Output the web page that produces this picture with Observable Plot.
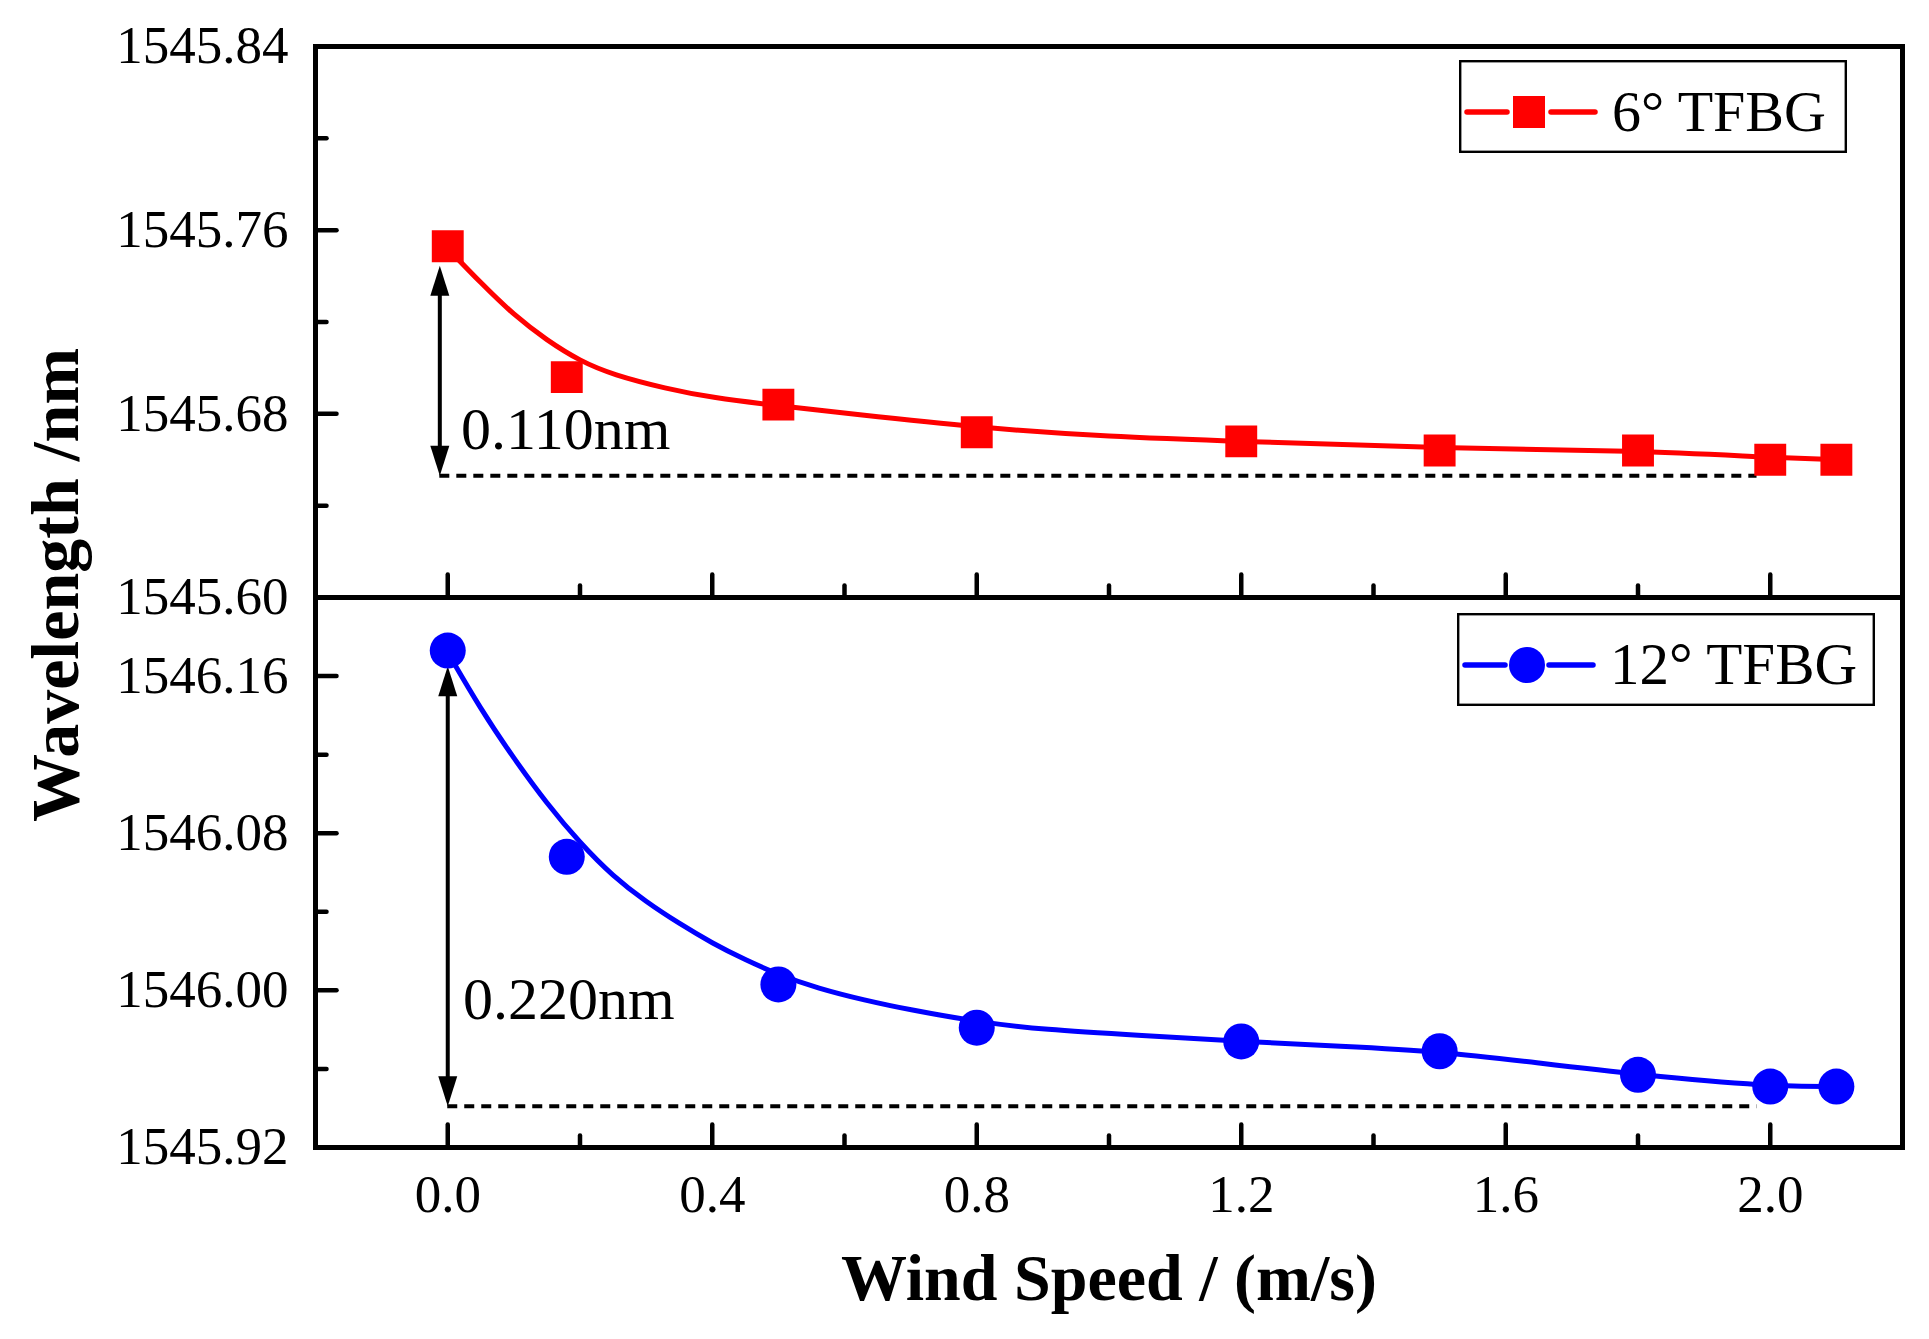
<!DOCTYPE html>
<html>
<head>
<meta charset="utf-8">
<script src="https://cdn.jsdelivr.net/npm/d3@7"></script>
<script src="https://cdn.jsdelivr.net/npm/@observablehq/plot@0.6"></script>
<style>
  html, body { margin: 0; padding: 0; background: #fff; }
  #wrap { position: relative; width: 1929px; height: 1339px; overflow: hidden; font-family: "Liberation Serif", "Times New Roman", serif; }
  #wrap > .panel { position: absolute; left: 0; }
  #wrap svg { overflow: visible; }
  .ylabel { position: absolute; left: 55px; top: 585px; transform: translate(-50%, -50%) rotate(-90deg); white-space: nowrap; font-weight: bold; font-size: 68px; line-height: 1; }
  .legend { position: absolute; }
</style>
</head>
<body>
<div id="wrap"></div>
<script>
// ---- data ----
const windSpeed = [0, 0.18, 0.5, 0.8, 1.2, 1.5, 1.8, 2.0, 2.1];
const tfbg6  = [1545.753, 1545.696, 1545.684, 1545.672, 1545.668, 1545.664, 1545.664, 1545.660, 1545.660];
const tfbg12 = [1546.173, 1546.068, 1546.003, 1545.981, 1545.974, 1545.969, 1545.957, 1545.951, 1545.951];

// fitted curves
const fitX6  = [0, 0.05, 0.1, 0.15, 0.2, 0.25, 0.33, 0.4, 0.5, 0.61, 0.8, 1.0, 1.2, 1.5, 1.8, 2.0, 2.1];
const fit6   = [1545.752, 1545.737, 1545.723, 1545.712, 1545.703, 1545.697, 1545.691, 1545.687, 1545.6835, 1545.680, 1545.674, 1545.670, 1545.668, 1545.665, 1545.664, 1545.661, 1545.660];
const fitX12 = [0, 0.05, 0.1, 0.15, 0.2, 0.25, 0.3, 0.35, 0.4, 0.45, 0.5, 0.56, 0.63, 0.7, 0.8, 0.9, 1.05, 1.2, 1.35, 1.5, 1.65, 1.8, 2.0, 2.1];
const fit12  = [1546.172, 1546.143, 1546.118, 1546.095, 1546.075, 1546.058, 1546.045, 1546.034, 1546.024, 1546.0155, 1546.008, 1546.001, 1545.995, 1545.990, 1545.984, 1545.980, 1545.977, 1545.974, 1545.9715, 1545.969, 1545.963, 1545.957, 1545.951, 1545.951];

// axis ticks
const xMajor = [0, 0.4, 0.8, 1.2, 1.6, 2.0];
const xMinor = [0.2, 0.6, 1.0, 1.4, 1.8];
const yMajorTop = [1545.60, 1545.68, 1545.76, 1545.84];
const yMinorTop = [1545.64, 1545.72, 1545.80];
const yMajorBot = [1545.92, 1546.00, 1546.08, 1546.16];
const yMinorBot = [1545.96, 1546.04, 1546.12];

// annotations
const shift6  = {label: "0.110nm", x: -0.012, top: 1545.7445, bottom: 1545.653, dashEnd: 1.98, tx: 0.02, ty: 1545.673};
const shift12 = {label: "0.220nm", x: 0.0, top: 1546.165, bottom: 1545.941, dashEnd: 1.98, tx: 0.023, ty: 1545.995};

const seriesNames = ["6° TFBG", "12° TFBG"];
const colors = ["#ff0000", "#0000ff"];

// ---- helpers ----
const tickShape = { draw(ctx, l) { ctx.moveTo(0, 0); ctx.lineTo(0, -l); } };
const headShape = { draw(ctx, l) { ctx.moveTo(0, -l); ctx.lineTo(9.5, 0); ctx.lineTo(-9.5, 0); ctx.closePath(); } };
const FONT = "'Liberation Serif', 'Times New Roman', serif";

function tickMarks(yMajor, yMinor) {
  const s = {anchor: "start", shape: tickShape, stroke: "black", strokeWidth: 4.5};
  return [
    Plot.vector(xMajor, {x: d => d, frameAnchor: "bottom", length: 23, rotate: 0, ...s}),
    Plot.vector(xMinor, {x: d => d, frameAnchor: "bottom", length: 12, rotate: 0, ...s}),
    Plot.vector(yMajor, {y: d => d, frameAnchor: "left", length: 21, rotate: 90, ...s}),
    Plot.vector(yMinor, {y: d => d, frameAnchor: "left", length: 11, rotate: 90, ...s})
  ];
}

function annotation(a) {
  const shaft = [{x: a.x, y1: a.top - 0.004, y2: a.bottom + 0.004}];
  return [
    Plot.ruleY([{y: a.bottom, x1: a.x, x2: a.dashEnd}], {y: "y", x1: "x1", x2: "x2", stroke: "black", strokeWidth: 4, strokeDasharray: "10,7"}),
    Plot.link(shaft, {x1: "x", x2: "x", y1: "y1", y2: "y2", stroke: "black", strokeWidth: 4}),
    Plot.vector([{x: a.x, y: a.top}], {x: "x", y: "y", length: 30, rotate: 0, anchor: "end", shape: headShape, fill: "black", stroke: "none"}),
    Plot.vector([{x: a.x, y: a.bottom}], {x: "x", y: "y", length: 30, rotate: 180, anchor: "end", shape: headShape, fill: "black", stroke: "none"}),
    Plot.text([a], {x: "tx", y: "ty", text: "label", textAnchor: "start", lineAnchor: "middle", fontSize: 60, fill: "black"})
  ];
}

const pts6  = windSpeed.map((x, i) => ({x, y: tfbg6[i]}));
const pts12 = windSpeed.map((x, i) => ({x, y: tfbg12[i]}));
const curve6  = fitX6.map((x, i) => ({x, y: fit6[i]}));
const curve12 = fitX12.map((x, i) => ({x, y: fit12[i]}));

const baseStyle = {fontFamily: FONT, fontSize: "52px", color: "black", background: "transparent", overflow: "visible"};

const topPlot = Plot.plot({
  width: 1929, height: 597,
  marginTop: 46, marginBottom: 0, marginLeft: 315, marginRight: 27,
  x: {domain: [-0.2, 2.2], axis: null},
  y: {domain: [1545.60, 1545.84]},
  style: baseStyle,
  marks: [
    ...tickMarks(yMajorTop, yMinorTop),
    Plot.axisY(yMajorTop, {tickSize: 0, tickPadding: 27, tickFormat: d => d.toFixed(2), fontSize: 53, label: null}),
    ...annotation(shift6),
    Plot.line(curve6, {x: "x", y: "y", stroke: colors[0], strokeWidth: 5, curve: "basis"}),
    Plot.dot(pts6, {x: "x", y: "y", symbol: "square", r: 18, fill: colors[0], stroke: "none"}),
    Plot.frame({stroke: "black", strokeWidth: 5})
  ]
});

const botPlot = Plot.plot({
  width: 1929, height: 742,
  marginTop: 0, marginBottom: 192, marginLeft: 315, marginRight: 27,
  x: {domain: [-0.2, 2.2]},
  y: {domain: [1545.92, 1546.20]},
  style: baseStyle,
  marks: [
    ...tickMarks(yMajorBot, yMinorBot),
    Plot.axisY(yMajorBot, {tickSize: 0, tickPadding: 27, tickFormat: d => d.toFixed(2), fontSize: 53, label: null}),
    Plot.axisX(xMajor, {tickSize: 0, tickPadding: 27, tickFormat: d => d.toFixed(1), fontSize: 53, label: null}),
    Plot.text(["Wind Speed / (m/s)"], {frameAnchor: "bottom", dy: 152, text: d => d, fontSize: 66, fontWeight: "bold", fill: "black"}),
    ...annotation(shift12),
    Plot.line(curve12, {x: "x", y: "y", stroke: colors[1], strokeWidth: 5, curve: "basis"}),
    Plot.dot(pts12, {x: "x", y: "y", symbol: "circle", r: 18, fill: colors[1], stroke: "none"}),
    Plot.frame({stroke: "black", strokeWidth: 5})
  ]
});

const wrap = document.getElementById("wrap");
topPlot.classList.add("panel"); topPlot.style.top = "0px";
botPlot.classList.add("panel"); botPlot.style.top = "597px";
wrap.appendChild(topPlot);
wrap.appendChild(botPlot);

const yl = document.createElement("div");
yl.className = "ylabel";
yl.textContent = "Wavelength /nm";
wrap.appendChild(yl);

// legends
const NS = "http://www.w3.org/2000/svg";
function legend(left, top, w, h, name, color, symbol, fontSize) {
  const svg = document.createElementNS(NS, "svg");
  svg.setAttribute("class", "legend");
  svg.setAttribute("width", w); svg.setAttribute("height", h);
  svg.style.left = left + "px"; svg.style.top = top + "px";
  const cy = 52, cx = 70;
  svg.innerHTML =
    `<rect x="1.2" y="1.2" width="${w - 2.4}" height="${h - 2.4}" fill="white" stroke="black" stroke-width="2.4"/>` +
    `<line x1="8" x2="${cx - 22}" y1="${cy}" y2="${cy}" stroke="${color}" stroke-width="5.5" stroke-linecap="round"/>` +
    `<line x1="${cx + 22}" x2="${cx + 66}" y1="${cy}" y2="${cy}" stroke="${color}" stroke-width="5.5" stroke-linecap="round"/>` +
    (symbol === "square"
      ? `<rect x="${cx - 16}" y="${cy - 16}" width="32" height="32" fill="${color}"/>`
      : `<circle cx="${cx}" cy="${cy}" r="18" fill="${color}"/>`) +
    `<text x="153" y="${cy + 19}" font-family="${FONT.replace(/"/g, "")}" font-size="${fontSize}" fill="black">${name}</text>`;
  wrap.appendChild(svg);
}
legend(1459, 60, 388, 93, seriesNames[0], colors[0], "square", 58);
legend(1457, 613, 418, 93, seriesNames[1], colors[1], "circle", 59);
</script>
</body>
</html>
